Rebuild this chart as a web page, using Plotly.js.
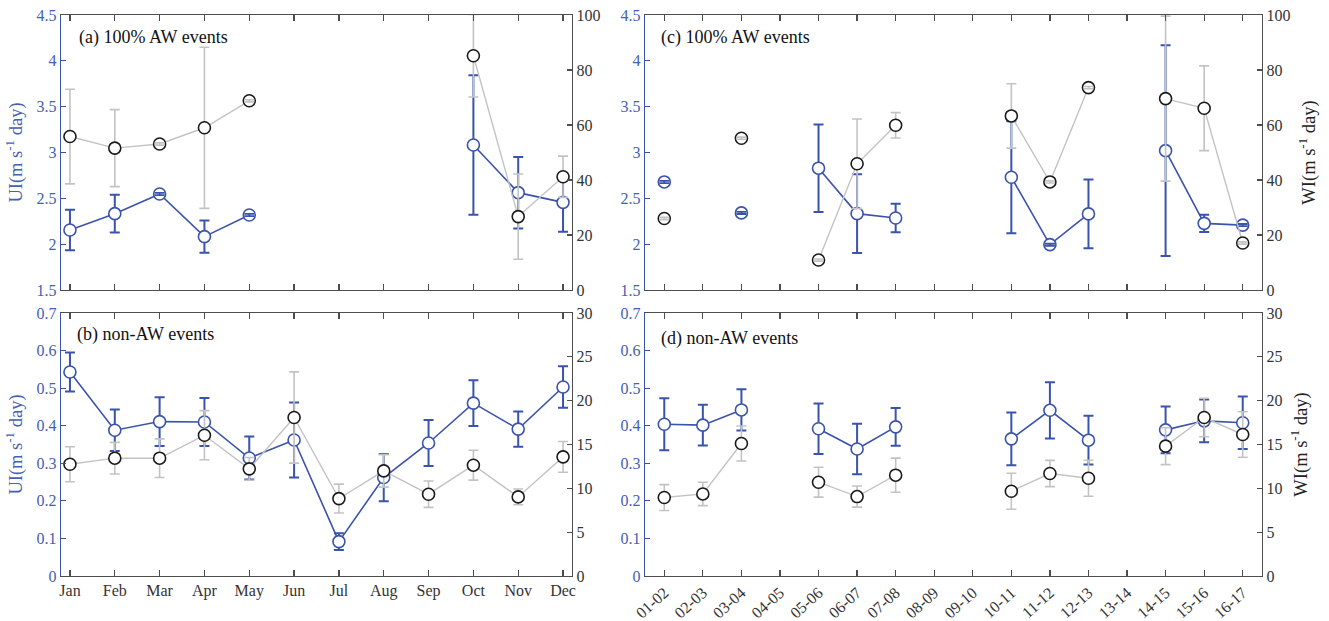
<!DOCTYPE html>
<html>
<head>
<meta charset="utf-8">
<script src="https://cdn.plot.ly/plotly-3.0.1.min.js"></script>
<style>html,body{margin:0;padding:0;background:#fff;}#chart{width:1329px;height:621px;}</style>
</head>
<body>
<div id="chart"></div>
<script>
// ---- categories ----
const months = ['Jan','Feb','Mar','Apr','May','Jun','Jul','Aug','Sep','Oct','Nov','Dec'];
const seasons = ['01-02','02-03','03-04','04-05','05-06','06-07','07-08','08-09','09-10','10-11','11-12','12-13','13-14','14-15','15-16','16-17'];

// ---- (a) 100% AW events, monthly ----
const uiA    = [2.155, 2.333, 2.547, 2.082, 2.318, null, null, null, null, 3.082, 2.562, 2.456];
const uiAErr = [0.22, 0.205, 0.012, 0.175, 0.012, null, null, null, null, 0.76, 0.39, 0.32];
const wiA    = [55.8, 51.6, 53.1, 59.0, 68.8, null, null, null, null, 85.2, 26.7, 41.2];
const wiAErr = [17.2, 14.0, 0.4, 29.3, 0.4, null, null, null, null, 15.0, 15.5, 7.5];

// ---- (b) non-AW events, monthly ----
const uiB    = [0.543, 0.388, 0.411, 0.410, 0.314, 0.362, 0.0915, 0.262, 0.354, 0.460, 0.391, 0.503];
const uiBErr = [0.052, 0.055, 0.065, 0.064, 0.057, 0.10, 0.022, 0.063, 0.061, 0.061, 0.047, 0.055];
const wiB    = [12.75, 13.44, 13.44, 16.06, 12.22, 18.08, 8.83, 11.99, 9.33, 12.64, 9.02, 13.59];
const wiBErr = [2.0, 1.8, 2.2, 2.8, 1.3, 5.2, 1.65, 1.85, 1.5, 1.7, 0.9, 1.75];

// ---- (c) 100% AW events, seasonal ----
const uiC    = [2.679, null, 2.341, null, 2.829, 2.333, 2.286, null, null, 2.730, 1.995, 2.330, null, 3.020, 2.227, 2.208];
const uiCErr = [0.012, null, 0.012, null, 0.477, 0.43, 0.156, null, null, 0.61, 0.012, 0.375, null, 1.15, 0.095, 0.012];
const wiC    = [26.0, null, 55.2, null, 10.9, 45.9, 59.9, null, null, 63.3, 39.3, 73.6, null, 69.6, 66.1, 17.1];
const wiCErr = [0.4, null, 0.4, null, 0.4, 16.3, 4.6, null, null, 11.7, 0.4, 0.4, null, 30.0, 15.4, 0.4];

// ---- (d) non-AW events, seasonal ----
const uiD    = [0.404, 0.4015, 0.442, null, 0.392, 0.338, 0.397, null, null, 0.365, 0.441, 0.3615, null, 0.389, 0.413, 0.408];
const uiDErr = [0.069, 0.054, 0.055, null, 0.067, 0.067, 0.05, null, null, 0.07, 0.075, 0.065, null, 0.062, 0.057, 0.07];
const wiD    = [8.95, 9.36, 15.11, null, 10.70, 9.06, 11.5, null, null, 9.67, 11.69, 11.15, null, 14.81, 18.08, 16.14];
const wiDErr = [1.47, 1.33, 2.0, null, 1.7, 1.2, 1.95, null, null, 2.05, 1.5, 2.05, null, 2.1, 2.2, 2.6];

const BLUE = '#3a53ad';
const BLUE_TXT = '#4560b5';
const GRAY = '#c3c3c3';
const DARK = '#1a1a1a';
const AX = '#4d4d4d';
const FONT = 'Liberation Serif, Times New Roman, serif';

function baseTrace(x, y, err, xa, ya, lineColor, lineW, edge, errColor, errW) {
  return {x: x, y: y, xaxis: xa, yaxis: ya, type: 'scatter', mode: 'lines+markers',
    line: {color: lineColor, width: lineW},
    marker: {symbol: 'circle', size: 12, color: '#ffffff', line: {color: edge, width: 1.6}},
    error_y: {type: 'data', array: err, visible: true, color: errColor, thickness: errW, width: 5},
    showlegend: false, hoverinfo: 'skip', cliponaxis: false};
}
// tiny error bars show their caps across the marker face (as in the source figure)
function capTrace(x, y, err, xa, ya, color, thick, limit) {
  const yy = y.map((v, i) => (v !== null && err[i] !== null && err[i] < limit) ? v : null);
  return {x: x, y: yy, xaxis: xa, yaxis: ya, type: 'scatter', mode: 'markers',
    marker: {size: 1, opacity: 0},
    error_y: {type: 'data', array: err, visible: true, color: color, thickness: thick, width: 5},
    showlegend: false, hoverinfo: 'skip', cliponaxis: false};
}
function uiTraces(x, y, err, xa, ya, limit) {
  return [baseTrace(x, y, err, xa, ya, BLUE, 1.6, BLUE, BLUE, 2),
          capTrace(x, y, err, xa, ya, BLUE, 1.8, limit)];
}
function wiTraces(x, y, err, xa, ya, limit) {
  return [baseTrace(x, y, err, xa, ya, GRAY, 1.4, DARK, GRAY, 1.6),
          capTrace(x, y, err, xa, ya, GRAY, 1.6, limit)];
}

const data = [].concat(
  uiTraces(months, uiA, uiAErr, 'x', 'y', 0.05),
  wiTraces(months, wiA, wiAErr, 'x', 'y2', 1.5),
  uiTraces(months, uiB, uiBErr, 'x2', 'y3', 0.005),
  wiTraces(months, wiB, wiBErr, 'x2', 'y4', 0.1),
  uiTraces(seasons, uiC, uiCErr, 'x3', 'y5', 0.05),
  wiTraces(seasons, wiC, wiCErr, 'x3', 'y6', 1.5),
  uiTraces(seasons, uiD, uiDErr, 'x4', 'y7', 0.005),
  wiTraces(seasons, wiD, wiDErr, 'x4', 'y8', 0.1)
);

const W = 1329, H = 621;
const domL = [61 / W, 572 / W];
const domR = [645 / W, 1262 / W];
const domT = [1 - 290 / H, 1 - 15 / H];
const domB = [1 - 576 / H, 1 - 313 / H];

const tickFont = {family: FONT, size: 16, color: '#333333'};
const tickFontBlue = {family: FONT, size: 16, color: BLUE_TXT};

function xAx(dom, anchor, cats, range, labels, angle) {
  return {domain: dom, anchor: anchor, type: 'category', categoryorder: 'array', categoryarray: cats,
    range: range, showgrid: false, zeroline: false, showline: true, linecolor: AX, linewidth: 1.2,
    mirror: 'ticks', ticks: 'inside', ticklen: 6, tickcolor: AX, tickwidth: 1.2,
    showticklabels: labels, tickfont: tickFont, tickangle: angle, fixedrange: true};
}
function yLeft(dom, anchor, range, dtick, title) {
  const ax = {domain: dom, anchor: anchor, range: range, dtick: dtick, showgrid: false, zeroline: false,
    showline: true, linecolor: BLUE, linewidth: 1.4, ticks: 'inside', ticklen: 5, tickcolor: BLUE, tickwidth: 1.2,
    tickfont: tickFontBlue, mirror: false};
  if (title) ax.title = {text: title, font: {family: FONT, size: 18.5, color: BLUE_TXT}, standoff: 9};
  return ax;
}
function yRight(overlay, anchor, range, dtick, title) {
  const ax = {overlaying: overlay, anchor: anchor, side: 'right', range: range, dtick: dtick,
    showgrid: false, zeroline: false, showline: true, linecolor: AX, linewidth: 1.2,
    ticks: 'inside', ticklen: 5, tickcolor: AX, tickwidth: 1.2, tickfont: tickFont};
  if (title) ax.title = {text: title, font: {family: FONT, size: 18.5, color: '#222222'}, standoff: 12};
  return ax;
}

const UI_T = 'UI(m s<sup>-1</sup> day)';
const WI_T = 'WI(m s<sup>-1</sup> day)';

const lbl = {family: FONT, size: 18, color: '#111'};
const layout = {
  width: W, height: H,
  margin: {l: 0, r: 0, t: 0, b: 0},
  paper_bgcolor: '#ffffff', plot_bgcolor: 'rgba(0,0,0,0)',
  font: {family: FONT, size: 16, color: '#333'},
  showlegend: false,
  xaxis:  xAx(domL, 'y',  months,  [-0.2, 11.2], false, 0),
  xaxis2: xAx(domL, 'y3', months,  [-0.2, 11.2], true, 0),
  xaxis3: xAx(domR, 'y5', seasons, [-0.5, 15.5], false, 0),
  xaxis4: xAx(domR, 'y7', seasons, [-0.5, 15.5], true, -42),
  yaxis:  yLeft(domT, 'x',  [1.5, 4.5], 0.5, UI_T),
  yaxis2: yRight('y', 'x', [0, 100], 20, null),
  yaxis3: yLeft(domB, 'x2', [0, 0.7], 0.1, UI_T),
  yaxis4: yRight('y3', 'x2', [0, 30], 5, null),
  yaxis5: yLeft(domT, 'x3', [1.5, 4.5], 0.5, null),
  yaxis6: yRight('y5', 'x3', [0, 100], 20, WI_T),
  yaxis7: yLeft(domB, 'x4', [0, 0.7], 0.1, null),
  yaxis8: yRight('y7', 'x4', [0, 30], 5, WI_T),
  annotations: [
    {text: '(a) 100% AW events', xref: 'paper', yref: 'paper', x: 77 / W, y: 1 - 37 / H, xanchor: 'left', yanchor: 'middle', showarrow: false, font: lbl},
    {text: '(b) non-AW events', xref: 'paper', yref: 'paper', x: 75 / W, y: 1 - 335 / H, xanchor: 'left', yanchor: 'middle', showarrow: false, font: lbl},
    {text: '(c) 100% AW events', xref: 'paper', yref: 'paper', x: 659 / W, y: 1 - 37 / H, xanchor: 'left', yanchor: 'middle', showarrow: false, font: lbl},
    {text: '(d) non-AW events', xref: 'paper', yref: 'paper', x: 659 / W, y: 1 - 338 / H, xanchor: 'left', yanchor: 'middle', showarrow: false, font: lbl}
  ]
};

Plotly.newPlot('chart', data, layout, {staticPlot: true, displayModeBar: false});
</script>
</body>
</html>
